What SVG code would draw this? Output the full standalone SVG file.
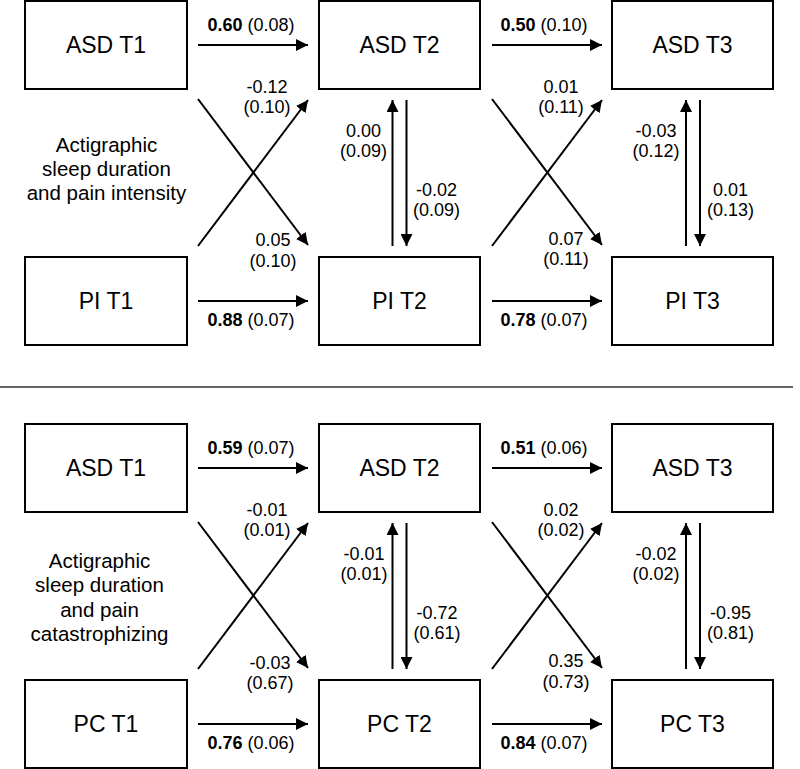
<svg xmlns="http://www.w3.org/2000/svg" width="800" height="769" viewBox="0 0 800 769">
<defs>
<marker id="ah" markerUnits="userSpaceOnUse" markerWidth="12" markerHeight="12" refX="12" refY="6" orient="auto">
<path d="M0,0 L12,6 L0,12 z" fill="#000"/>
</marker>
<style>
.box{fill:#fff;stroke:#000;stroke-width:2}
.nt{font-family:"Liberation Sans",Arial,sans-serif;font-size:23px;text-anchor:middle;fill:#000}
.lb{font-family:"Liberation Sans",Arial,sans-serif;font-size:18px;text-anchor:middle;fill:#000}
.lb tspan.b{font-weight:bold}
.ttl{font-family:"Liberation Sans",Arial,sans-serif;font-size:20.5px;text-anchor:middle;fill:#000}
.c line{stroke:#000;stroke-width:2;marker-end:url(#ah)}
</style>
</defs>
<rect width="800" height="769" fill="#fff"/>

<!-- Panel 1 -->
<g id="p1-asd-t1"><rect class="box" x="25" y="1" width="162" height="88"/><text class="nt" x="106" y="53">ASD T1</text></g>
<g id="p1-asd-t2"><rect class="box" x="319" y="1" width="161" height="88"/><text class="nt" x="399.5" y="53">ASD T2</text></g>
<g id="p1-asd-t3"><rect class="box" x="612" y="1" width="161" height="88"/><text class="nt" x="692.5" y="53">ASD T3</text></g>
<g id="p1-pi-t1"><rect class="box" x="25" y="257" width="162" height="88"/><text class="nt" x="106" y="309">PI T1</text></g>
<g id="p1-pi-t2"><rect class="box" x="319" y="257" width="161" height="88"/><text class="nt" x="399.5" y="309">PI T2</text></g>
<g id="p1-pi-t3"><rect class="box" x="612" y="257" width="161" height="88"/><text class="nt" x="692.5" y="309">PI T3</text></g>

<g id="p1-connectors" class="c">
<line x1="198" y1="45" x2="308" y2="45"/>
<line x1="492" y1="45" x2="602" y2="45"/>
<line x1="198" y1="301" x2="308" y2="301"/>
<line x1="492" y1="301" x2="602" y2="301"/>
<line x1="198" y1="99" x2="308" y2="245"/>
<line x1="198" y1="246" x2="308" y2="100"/>
<line x1="492" y1="99" x2="602" y2="245"/>
<line x1="492" y1="246" x2="602" y2="100"/>
<line x1="392.5" y1="246" x2="392.5" y2="100"/>
<line x1="406.5" y1="100" x2="406.5" y2="246"/>
<line x1="686" y1="246" x2="686" y2="100"/>
<line x1="700" y1="100" x2="700" y2="246"/>
</g>

<g id="p1-labels">
<text class="lb" x="251" y="30.5"><tspan class="b">0.60</tspan> (0.08)</text>
<text class="lb" x="544" y="30.5"><tspan class="b">0.50</tspan> (0.10)</text>
<text class="lb" x="251" y="326"><tspan class="b">0.88</tspan> (0.07)</text>
<text class="lb" x="544" y="326"><tspan class="b">0.78</tspan> (0.07)</text>
<text class="lb" x="267" y="92.7">-0.12</text><text class="lb" x="267" y="113">(0.10)</text>
<text class="lb" x="273" y="246">0.05</text><text class="lb" x="273" y="266.5">(0.10)</text>
<text class="lb" x="561" y="92.7">0.01</text><text class="lb" x="561" y="113">(0.11)</text>
<text class="lb" x="566" y="244.5">0.07</text><text class="lb" x="566" y="265">(0.11)</text>
<text class="lb" x="363.5" y="136.7">0.00</text><text class="lb" x="363.5" y="157">(0.09)</text>
<text class="lb" x="436.5" y="195.5">-0.02</text><text class="lb" x="436.5" y="216">(0.09)</text>
<text class="lb" x="656" y="136.7">-0.03</text><text class="lb" x="656" y="157">(0.12)</text>
<text class="lb" x="730.5" y="195.5">0.01</text><text class="lb" x="730.5" y="216">(0.13)</text>
<text class="ttl" x="106.5" y="152">Actigraphic</text>
<text class="ttl" x="106.5" y="176">sleep duration</text>
<text class="ttl" x="106.5" y="200">and pain intensity</text>
</g>

<line id="separator" x1="0" y1="387" x2="793" y2="387" stroke="#333" stroke-width="1.5"/>

<!-- Panel 2 -->
<g id="p2-asd-t1"><rect class="box" x="25" y="424" width="162" height="88"/><text class="nt" x="106" y="476">ASD T1</text></g>
<g id="p2-asd-t2"><rect class="box" x="319" y="424" width="161" height="88"/><text class="nt" x="399.5" y="476">ASD T2</text></g>
<g id="p2-asd-t3"><rect class="box" x="612" y="424" width="161" height="88"/><text class="nt" x="692.5" y="476">ASD T3</text></g>
<g id="p2-pc-t1"><rect class="box" x="25" y="680" width="162" height="88"/><text class="nt" x="106" y="732">PC T1</text></g>
<g id="p2-pc-t2"><rect class="box" x="319" y="680" width="161" height="88"/><text class="nt" x="399.5" y="732">PC T2</text></g>
<g id="p2-pc-t3"><rect class="box" x="612" y="680" width="161" height="88"/><text class="nt" x="692.5" y="732">PC T3</text></g>

<g id="p2-connectors" class="c">
<line x1="198" y1="468" x2="308" y2="468"/>
<line x1="492" y1="468" x2="602" y2="468"/>
<line x1="198" y1="724" x2="308" y2="724"/>
<line x1="492" y1="724" x2="602" y2="724"/>
<line x1="198" y1="522" x2="308" y2="668"/>
<line x1="198" y1="669" x2="308" y2="523"/>
<line x1="492" y1="522" x2="602" y2="668"/>
<line x1="492" y1="669" x2="602" y2="523"/>
<line x1="392.5" y1="669" x2="392.5" y2="523"/>
<line x1="406.5" y1="523" x2="406.5" y2="669"/>
<line x1="686" y1="669" x2="686" y2="523"/>
<line x1="700" y1="523" x2="700" y2="669"/>
</g>

<g id="p2-labels">
<text class="lb" x="251" y="453.5"><tspan class="b">0.59</tspan> (0.07)</text>
<text class="lb" x="544" y="453.5"><tspan class="b">0.51</tspan> (0.06)</text>
<text class="lb" x="251" y="749"><tspan class="b">0.76</tspan> (0.06)</text>
<text class="lb" x="544" y="749"><tspan class="b">0.84</tspan> (0.07)</text>
<text class="lb" x="267" y="515.7">-0.01</text><text class="lb" x="267" y="536">(0.01)</text>
<text class="lb" x="270" y="668.5">-0.03</text><text class="lb" x="270" y="689">(0.67)</text>
<text class="lb" x="561" y="515.7">0.02</text><text class="lb" x="561" y="536">(0.02)</text>
<text class="lb" x="566" y="667">0.35</text><text class="lb" x="566" y="688">(0.73)</text>
<text class="lb" x="364" y="559.7">-0.01</text><text class="lb" x="364" y="580">(0.01)</text>
<text class="lb" x="437" y="618.5">-0.72</text><text class="lb" x="437" y="639">(0.61)</text>
<text class="lb" x="656" y="559.7">-0.02</text><text class="lb" x="656" y="580">(0.02)</text>
<text class="lb" x="730.5" y="618.5">-0.95</text><text class="lb" x="730.5" y="639">(0.81)</text>
<text class="ttl" x="99.5" y="568">Actigraphic</text>
<text class="ttl" x="99.5" y="592.3">sleep duration</text>
<text class="ttl" x="99.5" y="616.6">and pain</text>
<text class="ttl" x="99.5" y="641">catastrophizing</text>
</g>
</svg>
